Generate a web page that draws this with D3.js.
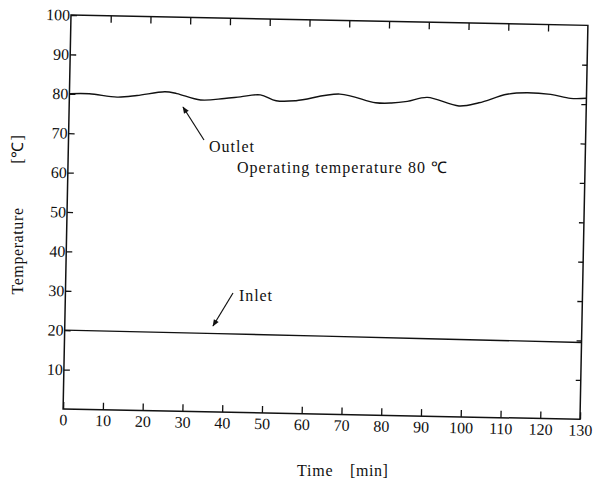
<!DOCTYPE html>
<html>
<head>
<meta charset="utf-8">
<script src="https://cdn.jsdelivr.net/npm/d3@7"></script>
<style>
  body { margin: 0; background: #fff; }
</style>
</head>
<body>
<script>
//== DATA ==//
const outletTime = [0, 5, 12, 17, 24, 27, 33, 39, 43, 48, 52, 57, 68, 77, 81, 85, 90, 98, 103, 110, 115, 121, 126, 130];
const outletTemp = [80.0, 80.1, 79.4, 79.9, 81.0, 80.6, 79.1, 79.6, 80.1, 80.7, 79.3, 79.4, 81.3, 79.3, 79.3, 79.8, 80.9, 78.9, 79.8, 82.1, 82.6, 82.3, 81.4, 81.5];
const inletTime = [0, 65, 130];
const inletTemp = [20, 19.8, 19.5];

const xTicks = [0, 10, 20, 30, 40, 50, 60, 70, 80, 90, 100, 110, 120, 130];
const yTicks = [10, 20, 30, 40, 50, 60, 70, 80, 90, 100];

const serif = "'Liberation Serif', 'Times New Roman', serif";

//== SVG AREA ==//
const width = 593;
const height = 487;
const plotW = 517;
const plotH = 394;

const svg = d3.select("body")
  .append("svg")
  .attr("width", width)
  .attr("height", height);

svg.append("rect").attr("width", width).attr("height", height).attr("fill", "#fff");

// the scanned figure sits a little tilted, so the plot group is rotated too
const g = svg.append("g")
  .attr("transform", "translate(71,15) rotate(1.15)");

const x = d3.scaleLinear().domain([0, 130]).range([0, plotW]);
const y = d3.scaleLinear().domain([0, 100]).range([plotH, 0]);

// frame
g.append("rect")
  .attr("width", plotW)
  .attr("height", plotH)
  .attr("fill", "none")
  .attr("stroke", "#111")
  .attr("stroke-width", 1.5);

//== AXES (ticks point inward) ==//
function styleAxis(sel) {
  sel.select(".domain").remove();
  sel.selectAll(".tick line").attr("stroke", "#111").attr("stroke-width", 1.3);
}

g.append("g")
  .call(d3.axisLeft(y).tickValues(yTicks).tickSizeInner(-6).tickSizeOuter(0).tickPadding(1))
  .call(styleAxis);

g.append("g")
  .attr("transform", `translate(${plotW},0)`)
  .call(d3.axisRight(y).tickValues(yTicks.slice(0, -1)).tickSizeInner(-5).tickSizeOuter(0).tickFormat(""))
  .call(styleAxis);

g.append("g")
  .attr("transform", `translate(0,${plotH})`)
  .call(d3.axisBottom(x).tickValues(xTicks).tickSizeInner(-7).tickSizeOuter(0).tickPadding(5))
  .call(styleAxis);

g.append("g")
  .call(d3.axisTop(x).tickValues(xTicks.slice(1, -1)).tickSizeInner(-7).tickSizeOuter(0).tickFormat(""))
  .call(styleAxis);

//== LINES ==//
const line = d3.line()
  .x(d => x(d[0]))
  .y(d => y(d[1]))
  .curve(d3.curveCatmullRom.alpha(0.5));

g.append("path")
  .datum(outletTime.map((t, i) => [t, outletTemp[i]]))
  .attr("fill", "none")
  .attr("stroke", "#111")
  .attr("stroke-width", 1.4)
  .attr("d", line);

g.append("path")
  .datum(inletTime.map((t, i) => [t, inletTemp[i]]))
  .attr("fill", "none")
  .attr("stroke", "#111")
  .attr("stroke-width", 1.4)
  .attr("d", line);

//== ANNOTATIONS ==//
svg.append("defs").append("marker")
  .attr("id", "head")
  .attr("viewBox", "0 0 10 10")
  .attr("refX", 9)
  .attr("refY", 5)
  .attr("markerWidth", 9)
  .attr("markerHeight", 7)
  .attr("markerUnits", "userSpaceOnUse")
  .attr("orient", "auto")
  .append("path")
  .attr("d", "M0,1 L10,5 L0,9 Z")
  .attr("fill", "#111");

svg.append("line")
  .attr("x1", 204).attr("y1", 140).attr("x2", 183).attr("y2", 107)
  .attr("stroke", "#111").attr("stroke-width", 1.2)
  .attr("marker-end", "url(#head)");

svg.append("line")
  .attr("x1", 233).attr("y1", 293).attr("x2", 213).attr("y2", 326)
  .attr("stroke", "#111").attr("stroke-width", 1.2)
  .attr("marker-end", "url(#head)");

const labels = svg.append("g");

labels.append("text")
  .attr("x", 209).attr("y", 152)
  .attr("textLength", 45).attr("lengthAdjust", "spacing")
  .text("Outlet");

labels.append("text")
  .attr("x", 237).attr("y", 173)
  .attr("textLength", 210).attr("lengthAdjust", "spacing")
  .text("Operating temperature 80 ℃");

labels.append("text")
  .attr("x", 239).attr("y", 301)
  .attr("textLength", 33).attr("lengthAdjust", "spacing")
  .text("Inlet");

//== AXIS TITLES ==//
labels.append("text")
  .attr("transform", "translate(23,251) rotate(-90)")
  .attr("text-anchor", "middle")
  .style("letter-spacing", "0.6px")
  .text("Temperature");

labels.append("text")
  .attr("transform", "translate(23,149) rotate(-90)")
  .attr("text-anchor", "middle")
  .style("letter-spacing", "1px")
  .text("[℃]");

labels.append("text")
  .attr("x", 297).attr("y", 476)
  .style("letter-spacing", "0.8px")
  .text("Time");

labels.append("text")
  .attr("x", 350).attr("y", 476)
  .style("letter-spacing", "0.6px")
  .text("[min]");

labels.selectAll("text").style("font-size", "16px");

svg.selectAll("text")
  .style("font-family", serif)
  .attr("fill", "#111");
g.selectAll(".tick text").style("font-size", "16px");
</script>
</body>
</html>
